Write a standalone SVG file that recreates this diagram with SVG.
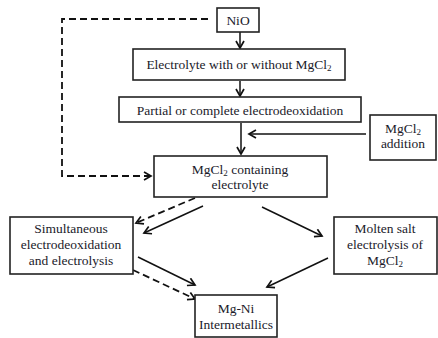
<svg xmlns="http://www.w3.org/2000/svg" width="438" height="338" viewBox="0 0 438 338" font-family="Liberation Serif, serif">
<style>
.box{fill:#fff;stroke:#222;stroke-width:1.6}
.t{font-size:13.5px;fill:#1a1a2a;text-anchor:middle}
.s{font-size:9px}
.c{fill:none;stroke:#111;stroke-width:1.5}
.d{fill:none;stroke:#111;stroke-width:1.8;stroke-dasharray:7,4}
</style>
<defs>
<marker id="ah" markerWidth="10" markerHeight="10" refX="8" refY="5" orient="auto" markerUnits="userSpaceOnUse">
<path d="M1,1 L8,5 L1,9" fill="none" stroke="#111" stroke-width="1.7"/>
</marker>
</defs>
<rect width="438" height="338" fill="#fff"/>
<g id="connectors">
<path class="d" d="M208,19 H62 V176 H151" marker-end="url(#ah)"/>
<line class="c" x1="240" y1="32" x2="240" y2="48" marker-end="url(#ah)"/>
<line class="c" x1="240" y1="81" x2="240" y2="96" marker-end="url(#ah)"/>
<line class="c" x1="241" y1="123" x2="241" y2="154" marker-end="url(#ah)"/>
<line class="c" x1="366" y1="134" x2="249" y2="134" marker-end="url(#ah)"/>
<line class="d" x1="195" y1="198" x2="136" y2="223" marker-end="url(#ah)"/>
<line class="c" x1="203" y1="206" x2="144" y2="233" marker-end="url(#ah)"/>
<line class="c" x1="262" y1="207" x2="322" y2="236" marker-end="url(#ah)"/>
<line class="c" x1="138" y1="257" x2="195" y2="285" marker-end="url(#ah)"/>
<line class="d" x1="133" y1="270" x2="195" y2="299" marker-end="url(#ah)"/>
<line class="c" x1="328" y1="258" x2="267" y2="287" marker-end="url(#ah)"/>
</g>
<g id="nio">
<rect class="box" x="217" y="8" width="42" height="24"/>
<text class="t" x="238" y="25">NiO</text>
</g>
<g id="electrolyte">
<rect class="box" x="133" y="49" width="212" height="31"/>
<text class="t" x="239" y="69">Electrolyte with or without MgCl<tspan class="s" dy="2">2</tspan></text>
</g>
<g id="partial">
<rect class="box" x="119" y="97" width="242" height="25"/>
<text class="t" x="240" y="115">Partial or complete electrodeoxidation</text>
</g>
<g id="addition">
<rect class="box" x="370" y="115" width="66" height="45"/>
<text class="t" x="403" y="133">MgCl<tspan class="s" dy="2">2</tspan></text>
<text class="t" x="403" y="148">addition</text>
</g>
<g id="containing">
<rect class="box" x="154" y="156" width="173" height="41"/>
<text class="t" x="240" y="174">MgCl<tspan class="s" dy="2">2</tspan><tspan dy="-2"> containing</tspan></text>
<text class="t" x="240" y="189">electrolyte</text>
</g>
<g id="simultaneous">
<rect class="box" x="10" y="217" width="123" height="57"/>
<text class="t" x="71" y="233">Simultaneous</text>
<text class="t" x="71" y="249">electrodeoxidation</text>
<text class="t" x="71" y="265">and electrolysis</text>
</g>
<g id="molten">
<rect class="box" x="334" y="217" width="103" height="57"/>
<text class="t" x="385" y="233">Molten salt</text>
<text class="t" x="385" y="249">electrolysis of</text>
<text class="t" x="385" y="265">MgCl<tspan class="s" dy="2">2</tspan></text>
</g>
<g id="mgni">
<rect class="box" x="195" y="295" width="82" height="42"/>
<text class="t" x="236" y="313">Mg-Ni</text>
<text class="t" x="236" y="329">Intermetallics</text>
</g>
</svg>
